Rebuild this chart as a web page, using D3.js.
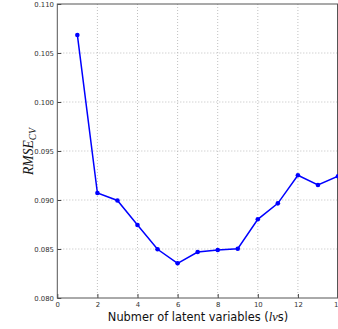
<!DOCTYPE html>
<html><head><meta charset="utf-8">
<script src="https://cdn.jsdelivr.net/npm/d3@7"></script>
<style>body{margin:0;background:#fff}svg{display:block}</style>
</head><body>
<script>
const lvs = [1,2,3,4,5,6,7,8,9,10,11,12,13,14];
const rmsecv = [0.10684,0.09071,0.08995,0.08745,0.08497,0.08354,0.08469,0.08490,0.08503,0.08803,0.08966,0.09252,0.09153,0.09242];
const xTicks = [0,2,4,6,8,10,12,14];
const yTicks = [0.080,0.085,0.090,0.095,0.100,0.105,0.110];

const W=338,H=329;
const m={l:57.3,t:4,r:338,b:298};
const svg=d3.select("body").append("svg").attr("width",W).attr("height",H);
const x=d3.scaleLinear().domain([0,14]).range([m.l,m.r]);
const y=d3.scaleLinear().domain([0.080,0.110]).range([m.b,m.t]);

// grid
svg.append("g").selectAll("line").data(xTicks.slice(1,-1)).join("line")
  .attr("x1",d=>x(d)).attr("x2",d=>x(d)).attr("y1",m.t).attr("y2",m.b)
  .attr("stroke","#b0b0b0").attr("stroke-width",0.8).attr("stroke-dasharray","1,2");
svg.append("g").selectAll("line").data(yTicks.slice(1,-1)).join("line")
  .attr("y1",d=>y(d)).attr("y2",d=>y(d)).attr("x1",m.l).attr("x2",m.r)
  .attr("stroke","#b0b0b0").attr("stroke-width",0.8).attr("stroke-dasharray","1,2");

// axes
const xa=svg.append("g").attr("transform",`translate(0,${m.b})`)
  .call(d3.axisBottom(x).tickValues(xTicks).tickFormat(d3.format("d")).tickSizeInner(-4).tickSizeOuter(0).tickPadding(4.5));
const ya=svg.append("g").attr("transform",`translate(${m.l},0)`)
  .call(d3.axisLeft(y).tickValues(yTicks).tickFormat(d3.format(".3f")).tickSizeInner(-4).tickSizeOuter(0).tickPadding(3.3));
[xa,ya].forEach(a=>{
  a.selectAll("text").attr("font-family","DejaVu Sans").attr("font-size",6.9).attr("fill","#333");
  a.selectAll("line").attr("stroke","#444");
  a.select(".domain").remove();
});
// frame
svg.append("rect").attr("x",m.l).attr("y",m.t).attr("width",m.r-m.l-0.5).attr("height",m.b-m.t)
  .attr("fill","none").attr("stroke","#555").attr("stroke-width",1);

// line
svg.append("path").datum(lvs.map((d,i)=>[d,rmsecv[i]]))
  .attr("d",d3.line().x(d=>x(d[0])).y(d=>y(d[1])))
  .attr("fill","none").attr("stroke","#0000ff").attr("stroke-width",1.5);
svg.append("g").selectAll("circle").data(lvs.map((d,i)=>[d,rmsecv[i]])).join("circle")
  .attr("cx",d=>x(d[0])).attr("cy",d=>y(d[1])).attr("r",2.3).attr("fill","#0000ff");

// labels
const xl=svg.append("text").attr("x",198).attr("y",321).attr("text-anchor","middle")
  .attr("font-family","DejaVu Sans").attr("font-size",11.4).attr("fill","#111");
xl.append("tspan").text("Nubmer of latent variables (");
xl.append("tspan").attr("font-family","Liberation Serif").attr("font-style","italic").attr("font-size",12.5).text("lv");
xl.append("tspan").text("s)");

const yl=svg.append("text").attr("transform","translate(33,151.5) rotate(-90)").attr("text-anchor","middle")
  .attr("font-family","Liberation Serif").attr("font-style","italic").attr("font-size",13.6).attr("fill","#111");
yl.append("tspan").text("RMSE");
yl.append("tspan").attr("font-size",9.5).attr("dy",2.5).text("CV");
</script>
</body></html>
